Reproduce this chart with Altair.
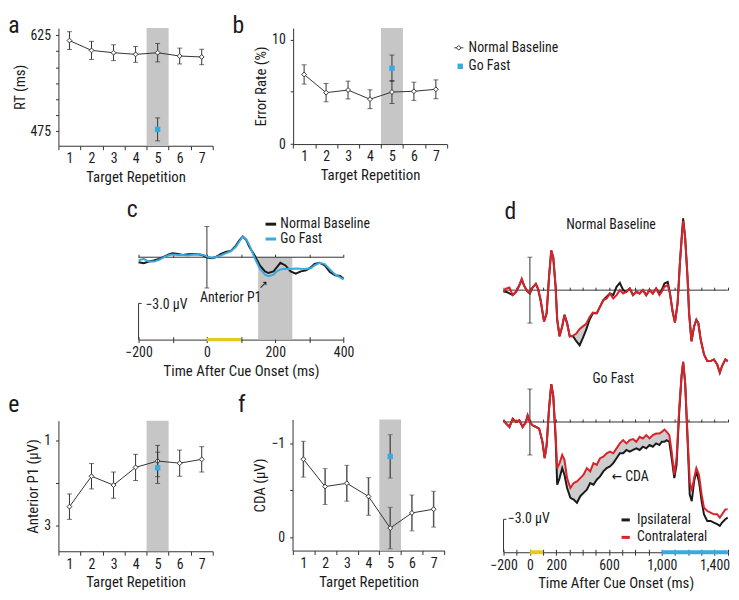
import altair as alt
import pandas as pd

# ---------------- data: behavioural panels (a, b, e, f) ----------------
REPS = [1, 2, 3, 4, 5, 6, 7]
REP_EDGES = [0.5, 1.5, 2.5, 3.5, 4.5, 5.5, 6.5, 7.5]
GO_FAST_REP = [5]
BAND_REP = [4.5, 5.5]

RT_NORMAL = [616.7, 601.3, 597.7, 595.1, 597.7, 592.5, 591.0]
RT_NORMAL_SEM = [13.9, 14.2, 12.4, 12.4, 14.4, 12.4, 12.1]
RT_GOFAST = [477.6]
RT_GOFAST_SEM = [18.0]

ERR_NORMAL = [6.66, 4.92, 5.17, 4.29, 4.98, 5.05, 5.24]
ERR_NORMAL_SEM = [0.92, 0.87, 0.85, 0.90, 1.10, 0.87, 0.90]
ERR_GOFAST = [7.26]
ERR_GOFAST_SEM = [1.26]

P1_NORMAL = [2.56, 1.84, 2.05, 1.63, 1.48, 1.53, 1.44]
P1_NORMAL_SEM = [0.30, 0.30, 0.31, 0.31, 0.37, 0.31, 0.30]
P1_GOFAST = [1.64]
P1_GOFAST_SEM = [0.37]

CDA_NORMAL = [-0.83, -0.54, -0.575, -0.435, -0.10, -0.26, -0.30]
CDA_NORMAL_SEM = [0.19, 0.19, 0.19, 0.20, 0.22, 0.19, 0.19]
CDA_GOFAST = [-0.86]
CDA_GOFAST_SEM = [0.23]

# ---------------- data: ERP panel c (µV, negative plotted up) ----------------
C_TIME = [-200, -185, -170, -155, -140, -125, -110, -100, -85, -70,
          -55, -40, -25, -10, 0, 15, 25, 40, 55, 70,
          85, 95, 105, 115, 125, 140, 155, 170, 180, 195,
          205, 215, 230, 245, 260, 275, 290, 305, 315, 330,
          345, 360, 375, 390, 400]
C_NORMAL = [0.41, 0.49, 0.36, 0.27, 0.14, -0.05, -0.25, -0.33, -0.27, -0.19,
            -0.25, -0.27, -0.25, -0.14, 0.03, 0.08, 0.00, -0.25, -0.44, -0.52,
            -0.96, -1.39, -1.72, -1.45, -0.82, -0.14, 0.68, 1.17, 1.31, 1.17,
            0.82, 0.46, 0.68, 1.17, 1.37, 1.17, 1.09, 0.82, 0.55, 0.46,
            0.68, 1.23, 1.50, 1.56, 1.78]
C_GOFAST = [0.27, 0.14, 0.36, 0.36, 0.22, 0.00, -0.19, -0.22, -0.19, -0.19,
            -0.14, -0.22, -0.25, -0.19, -0.05, 0.05, 0.00, -0.14, -0.33, -0.49,
            -0.87, -1.31, -1.72, -1.50, -0.96, 0.08, 0.96, 1.45, 1.58, 1.45,
            1.17, 1.01, 0.96, 0.98, 0.93, 0.96, 0.98, 0.90, 0.68, 0.46,
            0.57, 1.01, 1.42, 1.67, 1.83]
C_P1_WINDOW = [150, 250]

# ---------------- data: ERP panel d ----------------
D_TIME_NB = [-200, -180, -155, -130, -105, -80, -62, -42, -17, 0,
             20, 45, 62, 82, 107, 127, 145, 162, 177, 195,
             207, 225, 245, 262, 282, 302, 327, 352, 377, 402,
             427, 452, 477, 507, 532, 557, 582, 607, 632, 657,
             682, 707, 732, 757, 782, 807, 832, 857, 882, 907,
             932, 957, 982, 1000, 1020, 1045, 1062, 1082, 1100, 1120,
             1137, 1152, 1162, 1177, 1195, 1207, 1225, 1245, 1262, 1277,
             1295, 1320, 1345, 1370, 1395, 1420, 1440, 1457, 1482, 1500]
D_NB_CONTRA = [0.15, -0.15, -0.24, 0.45, 0.15, -0.45, -1.05, -0.36, 0.15, 0.24,
               -0.24, -0.60, -0.15, 0.90, 2.85, 2.10, -1.20, -3.60, -3.00, -0.30,
               2.70, 4.20, 3.30, 2.25, 3.00, 4.20, 4.14, 3.96, 3.54, 3.30,
               3.06, 2.46, 2.04, 2.10, 1.50, 0.90, 0.75, 0.30, 0.75, 0.45,
               0.00, 0.30, 0.15, -0.15, 0.45, 0.15, 0.30, 0.00, 0.45, 0.00,
               0.30, -0.15, 0.45, 0.15, -0.30, -0.45, 0.30, 1.95, 2.94, 1.20,
               -2.40, -4.95, -6.31, -4.80, -1.20, 2.10, 4.65, 3.30, 2.70, 3.00,
               4.50, 5.86, 6.46, 6.46, 6.31, 6.76, 7.51, 6.91, 6.31, 6.46]
D_NB_IPSI = [0.15, 0.15, 0.30, 0.45, 0.15, -0.45, -0.95, -0.36, 0.15, 0.30,
             -0.24, -0.55, -0.10, 1.00, 2.85, 2.10, -1.20, -3.60, -3.00, -0.30,
             2.70, 4.20, 3.30, 2.25, 3.00, 4.20, 4.20, 4.65, 5.02, 4.35,
             3.60, 2.70, 2.10, 2.10, 1.50, 0.90, 0.60, 0.30, 0.45, -0.30,
             -0.66, 0.00, 0.15, -0.15, 0.45, 0.15, 0.30, 0.00, 0.45, 0.00,
             0.30, -0.15, 0.30, 0.00, -0.60, -0.75, 0.30, 1.95, 2.94, 1.20,
             -2.40, -4.95, -6.55, -4.80, -1.20, 2.10, 4.65, 3.30, 2.70, 3.00,
             4.50, 5.86, 6.46, 6.46, 6.31, 6.76, 7.51, 6.91, 6.31, 6.46]

D_TIME_GF = [-200, -180, -155, -130, -105, -80, -55, -30, -17, 0,
             20, 45, 70, 95, 112, 127, 145, 162, 177, 195,
             207, 225, 245, 262, 282, 307, 332, 357, 382, 407,
             432, 457, 482, 507, 532, 557, 582, 607, 632, 657,
             682, 707, 732, 757, 782, 807, 832, 857, 882, 907,
             932, 957, 982, 1000, 1020, 1037, 1057, 1075, 1095, 1112,
             1132, 1150, 1162, 1177, 1195, 1212, 1227, 1245, 1262, 1282,
             1302, 1320, 1345, 1370, 1395, 1420, 1440, 1457, 1482, 1500]
D_GF_CONTRA = [-0.15, 0.15, 0.45, -0.30, 0.00, -0.15, 0.45, 0.00, -0.60, 0.00,
               0.30, 0.45, 0.60, 1.80, 3.30, 2.10, -1.20, -3.45, -2.40, 1.20,
               4.20, 3.75, 3.00, 3.45, 5.11, 6.01, 5.56, 5.41, 5.11, 4.80,
               4.20, 4.50, 3.75, 3.90, 3.30, 3.15, 2.85, 2.70, 2.85, 2.40,
               1.95, 1.65, 1.95, 1.65, 1.56, 1.80, 1.35, 1.50, 1.20, 1.50,
               1.20, 1.05, 1.05, 0.90, 0.69, 0.90, 1.20, 2.70, 4.80, 3.30,
               -1.20, -4.20, -5.47, -3.60, 1.20, 5.41, 6.31, 5.11, 4.20, 4.80,
               6.61, 7.81, 8.11, 8.26, 8.41, 8.41, 8.71, 8.41, 7.96, 7.96]
D_GF_IPSI = [-0.15, 0.15, 0.45, -0.30, 0.00, -0.15, 0.45, 0.00, -0.60, 0.00,
             0.30, 0.45, 0.60, 1.80, 3.30, 2.10, -1.20, -3.45, -2.40, 1.50,
             5.71, 5.11, 4.20, 4.80, 6.01, 6.91, 7.06, 7.36, 6.76, 6.46,
             6.16, 5.56, 5.71, 5.26, 4.95, 4.50, 4.20, 4.05, 3.75, 3.30,
             2.85, 2.85, 2.55, 2.70, 2.55, 2.40, 2.55, 2.25, 2.40, 2.10,
             2.25, 1.95, 2.10, 1.80, 1.80, 1.65, 1.80, 3.30, 5.11, 3.90,
             -0.90, -4.20, -5.47, -3.60, 1.50, 6.61, 7.21, 5.41, 4.50, 5.41,
             7.21, 8.41, 9.01, 9.01, 9.16, 9.31, 9.46, 9.16, 8.86, 8.71]
CUE_WINDOW = [0, 100]
TARGET_WINDOW = [1000, 1500]
NB_FILL = [300, 455]
GF_FILL = [177, 1060]

# ---------------- layout / style ----------------
OFF = 8
W, H = 731, 592
FONT = "'Liberation Sans Narrow', 'Arial Narrow', 'Roboto Condensed', 'DejaVu Sans Condensed', 'Liberation Sans', sans-serif"
DARK = '#333333'
INK = '#1a1a1a'
BAND = '#c6c6c6'
FILL = '#cdcdcd'
BLUE = '#38aadf'
RED = '#d9232b'
YELLOW = '#e2cb1e'


def S(domain, r0, r1):
    return alt.Scale(domain=list(domain), range=[r0 - OFF, r1 - OFF], nice=False, zero=False)


def ob(y):
    return (y - OFF) - H


def ol(x):
    return OFF - x


def ot(y):
    return OFF - y


def X(f, sc, axis=None):
    return alt.X(f, type='quantitative', scale=sc, axis=axis)


def Y(f, sc, axis=None):
    return alt.Y(f, type='quantitative', scale=sc, axis=axis)


def texts(labels, xs_, ys_, xs, ys, size=14, align='left', baseline='middle', color=DARK, font=FONT):
    df = pd.DataFrame({'x': xs_, 'y': ys_, 'label': labels})
    return alt.Chart(df).mark_text(fontSize=size, align=align, baseline=baseline, color=color, font=font).encode(
        x=X('x', xs), y=Y('y', ys), text='label:N')


def hseg(x0, x1, y, xs, ys, color, width):
    df = pd.DataFrame({'x0': [x0], 'x1': [x1], 'y': [y]})
    return alt.Chart(df).mark_rule(color=color, strokeWidth=width).encode(x=X('x0', xs), x2='x1', y=Y('y', ys))


layers = []


def rep_panel(xs, ys, ax_y, ax_x, ylim, normal, nsem, gofast, gsem, yticks, ylabels, ytitle,
              letter, lx, ly, yfmt='d', err_color=DARK, err_w=1.0):
    band = pd.DataFrame({'x0': [BAND_REP[0]], 'x1': [BAND_REP[1]], 'y0': [ylim[0]], 'y1': [ylim[1]]})
    lab_expr = 'indexof(' + str(list(ylabels)) + ', datum.value) >= 0 ? datum.label : ""'
    layers.append(alt.Chart(band).mark_rect(color=BAND).encode(
        x=X('x0', xs, alt.Axis(orient='bottom', offset=ob(ax_y), values=REP_EDGES, labels=False,
                               title=None, tickSize=4)),
        x2='x1',
        y=Y('y0', ys, alt.Axis(orient='left', offset=ol(ax_x), values=yticks, labelExpr=lab_expr,
                               format=yfmt, title=ytitle, tickSize=3, labelPadding=5, titlePadding=3)),
        y2='y1'))
    nd = pd.DataFrame({'rep': REPS, 'v': normal,
                       'lo': [m - s for m, s in zip(normal, nsem)],
                       'hi': [m + s for m, s in zip(normal, nsem)]})
    gd = pd.DataFrame({'rep': GO_FAST_REP, 'v': gofast,
                       'lo': [m - s for m, s in zip(gofast, gsem)],
                       'hi': [m + s for m, s in zip(gofast, gsem)]})

    def errbars(d):
        caps = d.melt(id_vars=['rep'], value_vars=['lo', 'hi'], value_name='cap')
        return [alt.Chart(d).mark_rule(color=err_color, strokeWidth=err_w).encode(
                    x=X('rep', xs), y=Y('lo', ys), y2='hi'),
                alt.Chart(caps).mark_tick(orient='horizontal', size=5, thickness=1, color=err_color).encode(
                    x=X('rep', xs), y=Y('cap', ys))]

    layers.extend(errbars(nd))
    layers.append(alt.Chart(nd).mark_line(color=DARK, strokeWidth=1).encode(
        x=X('rep', xs, alt.Axis(orient='bottom', offset=ob(ax_y), values=REPS, ticks=False, domain=False,
                                labelPadding=6, title='Target Repetition', titlePadding=4)),
        y=Y('v', ys)))
    layers.append(alt.Chart(nd).mark_point(shape='diamond', filled=True, fill='white', stroke=DARK,
                                           strokeWidth=1, size=24, opacity=1).encode(
        x=X('rep', xs), y=Y('v', ys)))
    layers.extend(errbars(gd))
    layers.append(alt.Chart(gd).mark_square(color=BLUE, size=30, opacity=1).encode(
        x=X('rep', xs), y=Y('v', ys)))
    layers.append(texts([letter], [lx], [ly], xs, ys, size=24, baseline='alphabetic', color=INK))


# ---- panel a ----
AX = S([0.5, 7.5], 59, 215)
AY = S([452.0, 636.3], 144, 25)
rep_panel(AX, AY, 144, 59, [452.0, 636.3], RT_NORMAL, RT_NORMAL_SEM, RT_GOFAST, RT_GOFAST_SEM,
          [475, 500, 525, 550, 575, 600, 625], [475, 625], 'RT (ms)', 'a', -1.78, 628.6)

# ---- panel b ----
BX = S([0.5, 7.5], 296.3, 451.7)
BY = S([0, 11.1], 142.3, 25)
rep_panel(BX, BY, 142.3, 296.3, [0, 11.1], ERR_NORMAL, ERR_NORMAL_SEM, ERR_GOFAST, ERR_GOFAST_SEM,
          [0, 5, 10], [0, 10], 'Error Rate (%)', 'b', -2.26, 10.63)
# legend (in panel b coordinates)
layers.append(hseg(7.84, 8.25, 9.21, BX, BY, DARK, 1))
layers.append(alt.Chart(pd.DataFrame({'x': [8.04], 'y': [9.21]})).mark_point(
    shape='diamond', filled=True, fill='white', stroke=DARK, strokeWidth=1, size=22, opacity=1).encode(
    x=X('x', BX), y=Y('y', BY)))
layers.append(alt.Chart(pd.DataFrame({'x': [8.11], 'y': [7.44]})).mark_square(color=BLUE, size=30, opacity=1).encode(
    x=X('x', BX), y=Y('y', BY)))
layers.append(texts(['Normal Baseline', 'Go Fast'], [8.49, 8.49], [9.21, 7.44], BX, BY, size=14, color=INK))

# ---- panel e ----
EX = S([0.5, 7.5], 59, 215)
EY = S([0.525, 3.616], 422, 554)
rep_panel(EX, EY, 554, 59, [0.525, 3.616], P1_NORMAL, P1_NORMAL_SEM, P1_GOFAST, P1_GOFAST_SEM,
          [1, 2, 3], [1, 3], 'Anterior P1 (µV)', 'e', -1.78, 0.307)

# ---- panel f ----
FX = S([0.5, 7.5], 295.7, 449.3)
FY = S([-1.252, 0.139], 420.7, 553.3)
rep_panel(FX, FY, 553.3, 295.7, [-1.252, 0.139], CDA_NORMAL, CDA_NORMAL_SEM, CDA_GOFAST, CDA_GOFAST_SEM,
          [-1, -0.5, 0], [-1, 0], 'CDA (µV)', 'f', -2.01, -1.336, yfmt='.0f',
          err_color='#555555', err_w=1.5)

# ---- panel c ----
CX = S([-200, 400], 140, 347.3)
CY = S([-3.42, 6.83], 215, 340)
C_BOTTOM = 6.83
c_ticks = list(range(-200, 401, 100))
layers.append(alt.Chart(pd.DataFrame({'x0': [C_P1_WINDOW[0]], 'x1': [C_P1_WINDOW[1]], 'y0': [0], 'y1': [C_BOTTOM]}))
              .mark_rect(color=BAND).encode(
    x=X('x0', CX, alt.Axis(orient='bottom', offset=ob(340), values=c_ticks, format='d',
                           labelExpr='indexof([-200, 0, 200, 400], datum.value) >= 0 ? datum.label : ""',
                           tickSize=3, labelPadding=3, title='Time After Cue Onset (ms)', titlePadding=4)),
    x2='x1', y=Y('y0', CY), y2='y1'))
# zero line with upward ticks
layers.append(alt.Chart(pd.DataFrame({'x0': [-200], 'x1': [400], 'y': [0]})).mark_rule(color=DARK, strokeWidth=1).encode(
    x=X('x0', CX, alt.Axis(orient='top', offset=ot(256.7), values=c_ticks, labels=False, domain=False,
                           tickSize=3, title=None)),
    x2='x1', y=Y('y', CY)))
# vertical bar at 0
layers.append(alt.Chart(pd.DataFrame({'x': [0], 'y0': [-2.55], 'y1': [2.55]})).mark_rule(color=DARK, strokeWidth=1).encode(
    x=X('x', CX), y=Y('y0', CY), y2='y1'))
layers.append(alt.Chart(pd.DataFrame({'x': [0, 0], 'y': [-2.55, 2.55]})).mark_tick(
    orient='horizontal', size=5, thickness=1, color=DARK).encode(x=X('x', CX), y=Y('y', CY)))
# scale bar (3 µV) with crossing ticks axis
layers.append(alt.Chart(pd.DataFrame({'x': [-200], 'y0': [C_BOTTOM], 'y1': [C_BOTTOM - 3.0]})).mark_rule(
    color=DARK, strokeWidth=1).encode(
    x=X('x', CX, alt.Axis(orient='top', offset=ot(340), values=c_ticks, labels=False, domain=False,
                          tickSize=3, title=None)),
    y=Y('y0', CY), y2='y1'))
layers.append(hseg(-200, -191, C_BOTTOM - 3.0, CX, CY, DARK, 1))
layers.append(hseg(CUE_WINDOW[0], CUE_WINDOW[1], C_BOTTOM, CX, CY, YELLOW, 3.5))
dfc = pd.DataFrame({'t': C_TIME, 'normal': C_NORMAL, 'gofast': C_GOFAST})
layers.append(alt.Chart(dfc).mark_line(color=INK, strokeWidth=2).encode(x=X('t', CX), y=Y('normal', CY)))
layers.append(alt.Chart(dfc).mark_line(color=BLUE, strokeWidth=2).encode(x=X('t', CX), y=Y('gofast', CY)))
layers.append(texts(['−3.0 µV'], [-180], [3.96], CX, CY, size=14, color=INK))
layers.append(texts(['Anterior P1'], [69.5], [3.36], CX, CY, size=14, align='center', color=INK))
layers.append(texts(['↗'], [164], [2.28], CX, CY, size=11, align='center', color=INK, font='DejaVu Sans'))
layers.append(hseg(171.6, 202.6, -2.74, CX, CY, INK, 3))
layers.append(hseg(171.6, 202.6, -1.51, CX, CY, BLUE, 3))
layers.append(texts(['Normal Baseline', 'Go Fast'], [215, 215], [-2.74, -1.51], CX, CY, size=14, color=INK))
layers.append(texts(['c'], [-234.7], [-3.34], CX, CY, size=24, baseline='alphabetic', color=INK))

# ---- panel d ----
DX = S([-200, 1500], 509, 735.7)
K = 11.1
DYT = S([-8.5, 11.8], 290 - 8.5 * K, 290 + 11.8 * K)
D_BOTTOM = 11.865
DYB = S([-6.0, D_BOTTOM], 423.3 - 6.0 * K, 423.3 + D_BOTTOM * K)
d_ticks = list(range(-200, 1501, 100))
for ys, base in ((DYT, 290), (DYB, 423.3)):
    layers.append(alt.Chart(pd.DataFrame({'x0': [-200], 'x1': [1500], 'y': [0]})).mark_rule(color=DARK, strokeWidth=1).encode(
        x=X('x0', DX, alt.Axis(orient='top', offset=ot(base), values=d_ticks, labels=False, domain=False,
                               tickSize=3, title=None)),
        x2='x1', y=Y('y', ys)))
    layers.append(alt.Chart(pd.DataFrame({'x': [0], 'y0': [-3.0], 'y1': [3.0]})).mark_rule(color=DARK, strokeWidth=1).encode(
        x=X('x', DX), y=Y('y0', ys), y2='y1'))
    layers.append(alt.Chart(pd.DataFrame({'x': [0, 0], 'y': [-3.0, 3.0]})).mark_tick(
        orient='horizontal', size=5, thickness=1, color=DARK).encode(x=X('x', DX), y=Y('y', ys)))

for tt, ipsi, contra, ys, win in ((D_TIME_NB, D_NB_IPSI, D_NB_CONTRA, DYT, NB_FILL),
                                  (D_TIME_GF, D_GF_IPSI, D_GF_CONTRA, DYB, GF_FILL)):
    dfd = pd.DataFrame({'t': tt, 'ipsi': ipsi, 'contra': contra})
    fill = dfd[(dfd.t >= win[0]) & (dfd.t <= win[1])]
    layers.append(alt.Chart(fill).mark_area(color=FILL, opacity=1).encode(
        x=X('t', DX), y=Y('ipsi', ys), y2='contra'))
    layers.append(alt.Chart(dfd).mark_line(color=INK, strokeWidth=2).encode(x=X('t', DX), y=Y('ipsi', ys)))
    layers.append(alt.Chart(dfd).mark_line(color=RED, strokeWidth=2).encode(x=X('t', DX), y=Y('contra', ys)))

# bottom axis with cue (yellow) and target (blue) windows
layers.append(alt.Chart(pd.DataFrame({'x0': [CUE_WINDOW[0]], 'x1': [CUE_WINDOW[1]], 'y': [D_BOTTOM]}))
              .mark_rule(color=YELLOW, strokeWidth=4).encode(
    x=X('x0', DX, alt.Axis(orient='bottom', offset=ob(555), values=d_ticks, format=',d',
                           labelExpr='indexof([-200, 0, 200, 600, 1000, 1400], datum.value) >= 0 ? datum.label : ""',
                           tickSize=3, labelPadding=3, title='Time After Cue Onset (ms)', titlePadding=4)),
    x2='x1', y=Y('y', DYB)))
layers.append(hseg(TARGET_WINDOW[0], TARGET_WINDOW[1], D_BOTTOM, DX, DYB, BLUE, 4))
layers.append(alt.Chart(pd.DataFrame({'x': [-200], 'y0': [D_BOTTOM], 'y1': [D_BOTTOM - 3.0]})).mark_rule(
    color=DARK, strokeWidth=1).encode(
    x=X('x', DX, alt.Axis(orient='top', offset=ot(555), values=d_ticks, labels=False, domain=False,
                          tickSize=3, title=None)),
    y=Y('y0', DYB), y2='y1'))
layers.append(hseg(-200, -178, D_BOTTOM - 3.0, DX, DYB, DARK, 1))
layers.append(texts(['Normal Baseline'], [615], [-5.95], DX, DYT, size=14, align='center', color=INK))
layers.append(texts(['Go Fast'], [632], [-3.9], DX, DYB, size=14, align='center', color=INK))
layers.append(texts(['−3.0 µV'], [-168], [8.86], DX, DYB, size=14, color=INK))
layers.append(texts(['← CDA'], [619.6], [4.99], DX, DYB, size=14, color=INK))
layers.append(hseg(694.7, 757.6, 8.92, DX, DYB, INK, 3))
layers.append(hseg(694.7, 757.6, 10.51, DX, DYB, RED, 3))
layers.append(texts(['Ipsilateral', 'Contralateral'], [812, 812], [8.92, 10.51], DX, DYB, size=14, color=INK))
layers.append(texts(['d'], [-192.5], [-6.49], DX, DYT, size=24, baseline='alphabetic', color=INK))

chart = (
    alt.layer(*layers)
    .resolve_scale(x='independent', y='independent')
    .resolve_axis(x='independent', y='independent')
    .properties(width=W, height=H, padding=0, autosize=alt.AutoSizeParams(type='none'))
    .configure_view(stroke=None)
    .configure_axis(labelFont=FONT, titleFont=FONT, labelFontSize=14, titleFontSize=15,
                    titleFontWeight='normal', labelColor=INK, titleColor=INK, domainColor=DARK,
                    tickColor=DARK, grid=False, labelFlush=False, labelOverlap=False,
                    domainWidth=1, tickWidth=1, zindex=1)
)

chart.save("out.html", embed_options={"renderer": "svg", "actions": False})
